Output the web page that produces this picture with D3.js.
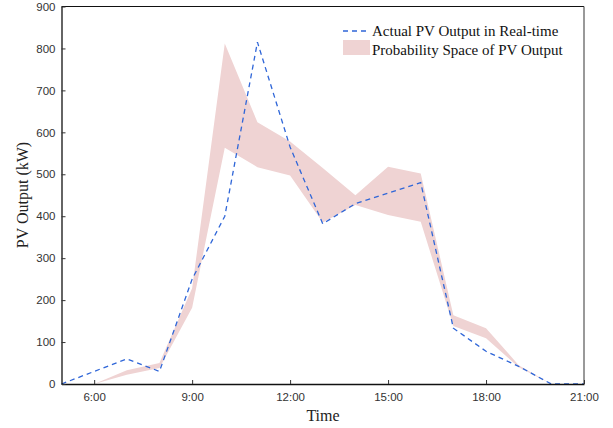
<!DOCTYPE html>
<html><head><meta charset="utf-8">
<script src="https://cdn.jsdelivr.net/npm/d3@7"></script>
<style>body{margin:0;background:#fff}svg{display:block}</style>
</head><body>
<script>
// Data (hours of day)
const actualHours = [5,6,7,8,9,10,11,12,13,14,15,16,17,18,19,20,21];
const actualValues = [0,30,60,30,250,400,815,565,382,430,455,480,133,78,42,0,0];
const bandHours = [6,7,8,9,10,11,12,13,14,15,16,17,18,19,20];
const bandUpper = [0,33,50,228,812,624,578,515,450,518,502,164,133,45,0];
const bandLower = [0,22,38,182,563,517,497,385,427,403,387,138,109,40,0];
const xTickHours = [6,9,12,15,18,21];
const xTickLabels = ["6:00","9:00","12:00","15:00","18:00","21:00"];
const yTicks = [0,100,200,300,400,500,600,700,800,900];
const legendLabels = ["Actual PV Output in Real-time","Probability Space of PV Output"];

const W = 613, H = 428;
const m = {l:61.5, r:584, t:6.5, b:384};
const svg = d3.select("body").append("svg").attr("width",W).attr("height",H);
const x = d3.scaleLinear().domain([5,21]).range([m.l,m.r]);
const y = d3.scaleLinear().domain([0,900]).range([m.b,m.t]);

const band = bandHours.map((h,i)=>({h, u:bandUpper[i], l:bandLower[i]}));
svg.append("path").datum(band)
  .attr("fill","#efd3d3")
  .attr("d", d3.area().x(d=>x(d.h)).y0(d=>y(d.l)).y1(d=>y(d.u)));

const act = actualHours.map((h,i)=>({h, v:actualValues[i]}));
svg.append("path").datum(act)
  .attr("fill","none").attr("stroke","#2f66d8").attr("stroke-width",1.3)
  .attr("stroke-dasharray","5,4")
  .attr("d", d3.line().x(d=>x(d.h)).y(d=>y(d.v)));

// frame
svg.append("line").attr("x1",m.l).attr("x2",m.r).attr("y1",m.t).attr("y2",m.t).attr("stroke","#111").attr("stroke-width",1.2);
svg.append("line").attr("x1",m.r).attr("x2",m.r).attr("y1",m.t).attr("y2",m.b).attr("stroke","#555").attr("stroke-width",1.2);

const xAxis = d3.axisBottom(x).tickValues(xTickHours).tickFormat((d,i)=>xTickLabels[i]).tickSizeInner(-4).tickSizeOuter(0).tickPadding(9);
const gx = svg.append("g").attr("transform",`translate(0,${m.b})`).call(xAxis);
const yAxis = d3.axisLeft(y).tickValues(yTicks).tickSizeInner(-4).tickSizeOuter(0).tickPadding(6);
const gy = svg.append("g").attr("transform",`translate(${m.l},0)`).call(yAxis);
[gx,gy].forEach(g=>{
  g.select(".domain").attr("stroke","#111").attr("stroke-width",1.3);
  g.selectAll(".tick line").attr("stroke","#333");
  g.selectAll("text").attr("font-family","'Liberation Sans', Arial, sans-serif").attr("font-size",11.5).attr("fill","#333");
});

svg.append("text").attr("x",323).attr("y",421).attr("text-anchor","middle")
  .attr("font-family","'Liberation Serif','Times New Roman',serif").attr("font-size",16).attr("fill","#222").text("Time");
svg.append("text").attr("transform","translate(28,195) rotate(-90)").attr("text-anchor","middle")
  .attr("font-family","'Liberation Serif','Times New Roman',serif").attr("font-size",16).attr("fill","#222").text("PV Output (kW)");

// legend
const lg = svg.append("g");
lg.append("line").attr("x1",343).attr("x2",370).attr("y1",31).attr("y2",31)
  .attr("stroke","#2f66d8").attr("stroke-width",1.3).attr("stroke-dasharray","5,4");
lg.append("rect").attr("x",343).attr("y",40).attr("width",27).attr("height",15).attr("fill","#efd3d3");
legendLabels.forEach((t,i)=>{
  lg.append("text").attr("x",372).attr("y",35.5+i*19).attr("font-family","'Liberation Serif','Times New Roman',serif")
    .attr("font-size",15).attr("fill","#111").text(t);
});
</script>
</body></html>
